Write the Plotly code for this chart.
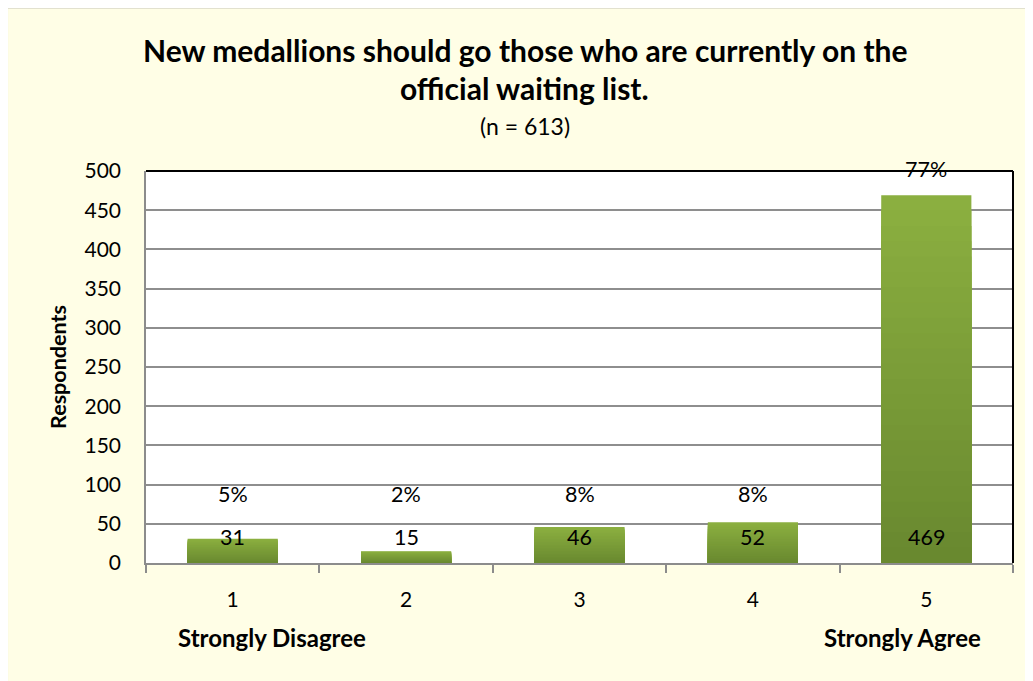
import plotly.graph_objects as go

categories = ["1", "2", "3", "4", "5"]
respondents = [31, 15, 46, 52, 469]
percent_labels = ["5%", "2%", "8%", "8%", "77%"]
title_lines = ["New medallions should go those who are currently on the",
               "official waiting list."]
subtitle = "(n = 613)"
end_labels = ["Strongly Disagree", "Strongly Agree"]
y_ticks = list(range(0, 501, 50))

FONT = "Lato, Calibri, Carlito, sans-serif"
LIGHT = (140, 176, 64)
DARK = (104, 136, 47)
N = 24

fig = go.Figure()
for k in range(N):
    frac = 1 - k / N
    p = frac - 0.5 / N
    col = tuple(int(round(DARK[i] + (LIGHT[i] - DARK[i]) * p)) for i in range(3))
    fig.add_trace(go.Bar(
        x=categories,
        y=[v * frac for v in respondents],
        marker=dict(color="rgb(%d,%d,%d)" % col, line=dict(width=0)),
        hoverinfo="skip",
        showlegend=False,
    ))

annotations = []
for i, v in enumerate(respondents):
    annotations.append(dict(x=i, y=0, xref="x", yref="y", text=str(v),
                            showarrow=False, yanchor="middle", yshift=26,
                            font=dict(family=FONT, size=21.5, color="black")))
for i, (v, t) in enumerate(zip(respondents, percent_labels)):
    annotations.append(dict(x=i, y=max(v, 55), xref="x", yref="y", text=t,
                            showarrow=False, yanchor="middle", yshift=26,
                            font=dict(family=FONT, size=21.5, color="black")))

annotations += [
    dict(x=0.437, y=1.3087, xref="paper", yref="paper", text="<b>%s</b>" % title_lines[0],
         showarrow=False, xanchor="center", yanchor="middle",
         font=dict(family=FONT, size=30, color="black")),
    dict(x=0.437, y=1.2117, xref="paper", yref="paper", text="<b>%s</b>" % title_lines[1],
         showarrow=False, xanchor="center", yanchor="middle",
         font=dict(family=FONT, size=30, color="black")),
    dict(x=0.437, y=1.1148, xref="paper", yref="paper", text=subtitle,
         showarrow=False, xanchor="center", yanchor="middle",
         font=dict(family=FONT, size=23, color="black")),
    dict(x=0.1453, y=-0.191, xref="paper", yref="paper", text="<b>%s</b>" % end_labels[0],
         showarrow=False, xanchor="center", yanchor="middle",
         font=dict(family=FONT, size=24, color="black")),
    dict(x=0.872, y=-0.191, xref="paper", yref="paper", text="<b>%s</b>" % end_labels[1],
         showarrow=False, xanchor="center", yanchor="middle",
         font=dict(family=FONT, size=24, color="black")),
]

shapes = [
    # outer chart frame (cream background with gray border)
    dict(type="rect", xref="paper", yref="paper", x0=-0.1603, x1=1.2, y0=-0.6, y1=1.418,
         fillcolor="#FFFEE6", line=dict(color="#8C8C8C", width=2), layer="below"),
    # plot area white fill
    dict(type="rect", xref="x domain", yref="y domain", x0=0, x1=1, y0=0, y1=1,
         fillcolor="white", line=dict(width=0), layer="below"),
    # top and right black border
    dict(type="line", xref="x domain", yref="y domain", x0=0, x1=1, y0=1, y1=1,
         line=dict(color="black", width=2)),
    dict(type="line", xref="x domain", yref="y domain", x0=1, x1=1, y0=0, y1=1,
         line=dict(color="black", width=2)),
]

fig.update_layout(
    width=1033, height=681,
    margin=dict(l=138, r=28, t=163, b=126),
    paper_bgcolor="white",
    plot_bgcolor="white",
    barmode="overlay",
    bargap=0.48,
    showlegend=False,
    font=dict(family=FONT, size=20, color="black"),
    annotations=annotations,
    shapes=shapes,
    xaxis=dict(
        type="category",
        categoryorder="array", categoryarray=categories,
        tickson="boundaries", ticks="outside", ticklen=8, tickwidth=1.5,
        tickcolor="#8C8C8C",
        showline=True, linecolor="#8C8C8C", linewidth=1.5,
        showgrid=False,
        tickfont=dict(family=FONT, size=21, color="black"),
        ticklabelstandoff=17,
        automargin=False,
    ),
    yaxis=dict(
        range=[0, 500],
        tickvals=y_ticks,
        showgrid=True, gridcolor="#8E8E8E", gridwidth=1.5,
        showline=True, linecolor="#8C8C8C", linewidth=1.5,
        ticks="", zeroline=False,
        tickfont=dict(family=FONT, size=21, color="black"),
        ticklabelstandoff=19,
        automargin=False,
        title=dict(text="<b>Respondents</b>", font=dict(family=FONT, size=21.5, color="black"),
                   standoff=12),
    ),
)

fig.write_html("out.html")
